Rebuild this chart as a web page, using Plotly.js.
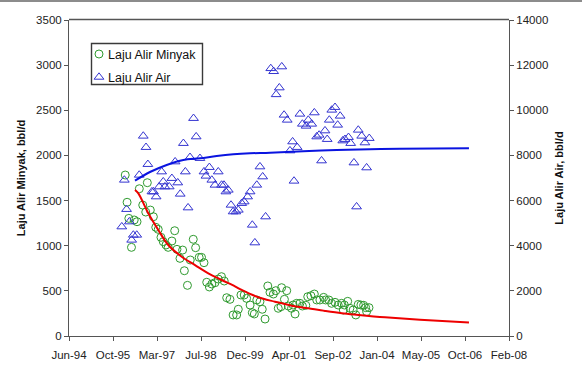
<!DOCTYPE html>
<html>
<head>
<meta charset="utf-8">
<script src="https://cdn.plot.ly/plotly-3.0.1.min.js"></script>
<style>
  html, body { margin: 0; padding: 0; background: #fff; }
  #wrap { position: relative; width: 582px; height: 372px; }
  #chart { width: 582px; height: 372px; }
  #frame { position: absolute; left: 0; top: 0; width: 582px; height: 2px; background: #8c8c8c; }
</style>
</head>
<body>
<div id="wrap">
  <div id="chart"></div>
  <div id="frame"></div>
</div>
<script>
// Oil rate (bbl/d), left axis
const oilDates = [
  '1996-03-15','1996-04-05','1996-04-25','1996-05-25','1996-06-25','1996-07-27','1996-08-22','1996-09-30',
  '1996-11-03','1996-11-21','1996-12-25','1997-01-29','1997-02-25','1997-03-25','1997-04-25','1997-05-21',
  '1997-06-21','1997-07-16','1997-08-27','1997-09-28','1997-10-24','1997-11-27','1997-12-27','1998-01-16',
  '1998-02-20','1998-03-24','1998-04-27','1998-05-24','1998-07-03','1998-07-30','1998-08-27','1998-09-27',
  '1998-10-27','1998-11-24','1998-12-30','1999-02-05','1999-03-14','1999-04-14','1999-05-12','1999-06-18',
  '1999-07-24','1999-09-02','1999-09-21','1999-10-21','1999-11-27','1999-12-24','2000-02-02','2000-02-27',
  '2000-03-21','2000-04-18','2000-05-24','2000-06-19','2000-07-21','2000-08-21','2000-09-15','2000-10-24',
  '2000-11-20','2000-12-18','2001-01-18','2001-01-25','2001-02-26','2001-03-24','2001-04-12','2001-05-18',
  '2001-06-05','2001-06-27','2001-07-15','2001-08-21','2001-09-18','2001-10-27','2001-11-18','2001-12-24',
  '2002-02-01','2002-02-28','2002-04-05','2002-05-18','2002-06-09','2002-07-16','2002-08-16','2002-09-24',
  '2002-10-30','2002-12-08','2002-12-27','2003-01-08','2003-02-15','2003-03-12','2003-04-18','2003-05-18',
  '2003-06-15','2003-07-15','2003-08-15','2003-09-07','2003-09-18','2003-10-15'
];
const oilRates = [
  1783,1481,1303,982,1285,1266,1631,1450,
  1373,1698,1395,1321,1204,1181,1093,1045,
  1008,982,1052,1166,960,860,952,723,
  561,842,1071,978,871,871,812,595,
  543,576,590,631,657,609,424,406,
  233,233,296,454,454,417,343,258,
  244,399,380,296,188,554,484,465,
  502,307,325,535,406,502,332,307,
  343,244,362,362,332,340,435,446,
  465,399,399,428,399,399,362,373,
  343,362,288,343,384,307,288,233,
  350,343,340,314,270,314
];

// Water rate (bbl/d), right axis
const waterDates = [
  '1996-02-05','1996-03-05','1996-03-30','1996-05-01','1996-05-27','1996-06-15','1996-07-24','1996-08-21',
  '1996-10-06','1996-11-06','1996-11-27','1997-01-12','1997-01-30','1997-03-01','1997-04-05','1997-05-03',
  '1997-05-21','1997-06-09','1997-07-28','1997-08-27','1997-10-03','1997-11-02','1997-11-30','1998-01-05',
  '1998-01-27','1998-02-27','1998-03-21','1998-04-30','1998-05-30','1998-07-12','1998-08-27','1998-09-18',
  '1998-10-27','1998-11-24','1998-12-30','1999-02-05','1999-03-15','1999-04-11','1999-05-03','1999-05-30',
  '1999-06-30','1999-07-24','1999-08-24','1999-09-21','1999-10-30','1999-11-27','2000-01-05','2000-02-02',
  '2000-02-27','2000-03-27','2000-04-18','2000-05-24','2000-06-24','2000-07-27','2000-09-24','2000-10-27',
  '2000-11-24','2000-12-30','2001-01-27','2001-02-22','2001-03-30','2001-04-30','2001-05-30','2001-06-15',
  '2001-07-21','2001-08-21','2001-09-18','2001-10-30','2001-11-24','2002-01-02','2002-02-01','2002-02-28',
  '2002-03-27','2002-04-24','2002-06-02','2002-06-27','2002-07-21','2002-08-18','2002-09-24','2002-10-24',
  '2002-11-21','2002-12-21','2003-01-15','2003-02-24','2003-03-21','2003-04-27','2003-05-27','2003-06-15',
  '2003-07-24','2003-08-30','2003-09-18','2003-10-18'
];
const waterRates = [
  4843,6912,5614,5064,4253,4475,4475,7133,
  8861,8361,7607,6394,6394,6172,6615,7279,
  6837,6615,6615,6987,7722,6792,6292,8538,
  7279,5684,7918,9646,8831,7873,7279,7089,
  7474,6912,6690,7279,6690,6690,6394,6469,
  5804,5508,5508,5583,5880,5950,6172,6394,
  4918,4134,6690,7501,7058,5286,11854,11723,
  10700,11000,11932,9792,9570,8210,8609,6868,
  8361,9836,9393,9304,9570,9393,9894,8831,
  8906,7767,9096,8715,9570,10013,10133,9349,
  9748,8653,8715,8804,8538,7678,5729,9127,
  8861,8565,7457,8760
];

// Decline trend for oil (left axis)
const oilTrendDates = [
  '1996-07-04','1996-08-11','1996-12-02','1997-03-26','1997-07-17','1997-12-17','1998-05-17','1998-10-15',
  '1999-03-16','1999-08-14','1999-10-29','2000-05-05','2000-11-11','2001-05-20','2001-11-24','2002-06-02',
  '2002-12-09','2003-06-16','2004-04-14','2005-05-17','2006-11-24'
];
const oilTrendRates = [
  1617,1580,1359,1174,1008,878,786,694,
  620,550,510,429,380,336,307,277,
  251,233,207,180,150
];

// Trend for water (right axis)
const waterTrendDates = [
  '1996-07-04','1996-12-21','1997-06-29','1998-01-04','1998-07-13','1999-01-18','1999-07-26','2000-02-01',
  '2000-09-15','2001-09-28','2002-10-13','2003-10-27','2004-10-01','2006-11-24'
];
const waterTrendRates = [
  6881,7266,7576,7798,7873,7975,8051,8095,
  8121,8183,8241,8272,8299,8316
];

// Date axis ticks, every 500 days
const xTickVals = ['1994-06-15','1995-10-28','1997-03-11','1998-07-24','1999-12-06','2001-04-19',
                   '2002-09-01','2004-01-14','2005-05-28','2006-10-10','2008-02-22'];
const xTickText = ['Jun-94','Oct-95','Mar-97','Jul-98','Dec-99','Apr-01',
                   'Sep-02','Jan-04','May-05','Oct-06','Feb-08'];

const FONT = '"Liberation Sans", Arial, sans-serif';
const TXT = '#222';
const AXC = '#555';

const traces = [
  {
    x: oilDates, y: oilRates, type: 'scatter', mode: 'markers', name: 'Laju Alir Minyak',
    marker: { symbol: 'circle-open', size: 8, color: '#2f9a2f', line: { width: 1, color: '#2f9a2f' } },
    yaxis: 'y'
  },
  {
    x: waterDates, y: waterRates, type: 'scatter', mode: 'markers', name: 'Laju Alir Air',
    marker: { symbol: 'triangle-up-open', size: 8.5, color: '#3434d0', line: { width: 1, color: '#3434d0' } },
    yaxis: 'y2'
  },
  {
    x: oilTrendDates, y: oilTrendRates, type: 'scatter', mode: 'lines', showlegend: false,
    line: { color: '#ee0000', width: 2, shape: 'spline' }, yaxis: 'y'
  },
  {
    x: waterTrendDates, y: waterTrendRates, type: 'scatter', mode: 'lines', showlegend: false,
    line: { color: '#0a14e0', width: 2, shape: 'spline' }, yaxis: 'y2'
  }
];

const layout = {
  width: 582, height: 372,
  margin: { l: 69, r: 73, t: 20, b: 36, pad: 0 },
  paper_bgcolor: '#fff', plot_bgcolor: '#fff',
  font: { family: FONT, size: 11.5, color: TXT },
  showlegend: true,
  legend: {
    x: 0.05, y: 0.927, xanchor: 'left', yanchor: 'top',
    bgcolor: 'rgba(0,0,0,0)', borderwidth: 0,
    font: { family: FONT, size: 12.5, color: '#111' },
    itemwidth: 30, tracegroupgap: 0
  },
  shapes: [
    // legend frame: white box with a dark border
    {
      type: 'rect', xref: 'paper', yref: 'paper', layer: 'above',
      x0: 0.051136, x1: 0.303409, y0: 0.795886, y1: 0.925633,
      fillcolor: '#fff', line: { color: '#3a3a3a', width: 1.4 }
    },
    // top edge of the plot area
    {
      type: 'line', xref: 'paper', yref: 'paper', layer: 'above',
      x0: 0, x1: 1, y0: 1.001582, y1: 1.001582,
      line: { color: AXC, width: 1.4 }
    }
  ],
  xaxis: {
    type: 'date', range: ['1994-06-15', '2008-02-22'],
    tickmode: 'array', tickvals: xTickVals, ticktext: xTickText,
    ticks: 'outside', ticklen: 4, tickcolor: AXC, ticklabelstandoff: 4,
    showline: true, linecolor: AXC, linewidth: 1,
    showgrid: false, zeroline: false,
    tickfont: { family: FONT, size: 11.5, color: TXT }
  },
  yaxis: {
    range: [0, 3500], dtick: 500, tick0: 0, tickformat: 'd',
    ticks: 'outside', ticklen: 4, tickcolor: AXC,
    showline: true, linecolor: AXC, linewidth: 1,
    showgrid: false, zeroline: false,
    tickfont: { family: FONT, size: 11.5, color: TXT },
    title: { text: '<b>Laju Alir Minyak, bbl/d</b>', font: { family: FONT, size: 11, color: '#111' }, standoff: 8 }
  },
  yaxis2: {
    overlaying: 'y', side: 'right',
    range: [0, 14000], dtick: 2000, tick0: 0, tickformat: 'd',
    ticks: 'outside', ticklen: 4, tickcolor: AXC,
    showline: true, linecolor: AXC, linewidth: 1,
    showgrid: false, zeroline: false,
    tickfont: { family: FONT, size: 11.5, color: TXT },
    title: { text: '<b>Laju Alir Air, bbl/d</b>', font: { family: FONT, size: 11, color: '#111' }, standoff: 8 }
  }
};

function readTranslate(el) {
  const m = /translate\(\s*([-\d.e]+)[\s,]+([-\d.e]+)\s*\)/.exec(el.getAttribute('transform') || '');
  return m ? [+m[1], +m[2]] : [0, 0];
}

// Compact legend entries: symbol close to its label, rows inside the frame.
function compactLegend(gd) {
  const leg = gd.querySelector('g.legend');
  if (!leg) return;
  const host = gd.getBoundingClientRect();
  const symX = 99, textX = 108, rowY = [54, 76];
  leg.querySelectorAll('g.traces').forEach((tr, i) => {
    const txt = tr.querySelector('text.legendtext');
    const pts = tr.querySelector('g.legendpoints');
    const pb = pts.getBoundingClientRect();
    const dy = rowY[i] - ((pb.top + pb.bottom) / 2 - host.top);
    const [tx, ty] = readTranslate(tr);
    tr.setAttribute('transform', 'translate(' + tx + ',' + (ty + dy) + ')');
    const tb = txt.getBoundingClientRect();
    txt.setAttribute('x', (+txt.getAttribute('x') || 0) + (textX - (tb.left - host.left)));
    const pb2 = pts.getBoundingClientRect();
    const dx = symX - ((pb2.left + pb2.right) / 2 - host.left);
    pts.setAttribute('transform', 'translate(' + dx + ',0)');
  });
}

Plotly.newPlot('chart', traces, layout, { staticPlot: true, displayModeBar: false })
  .then(compactLegend);
</script>
</body>
</html>
